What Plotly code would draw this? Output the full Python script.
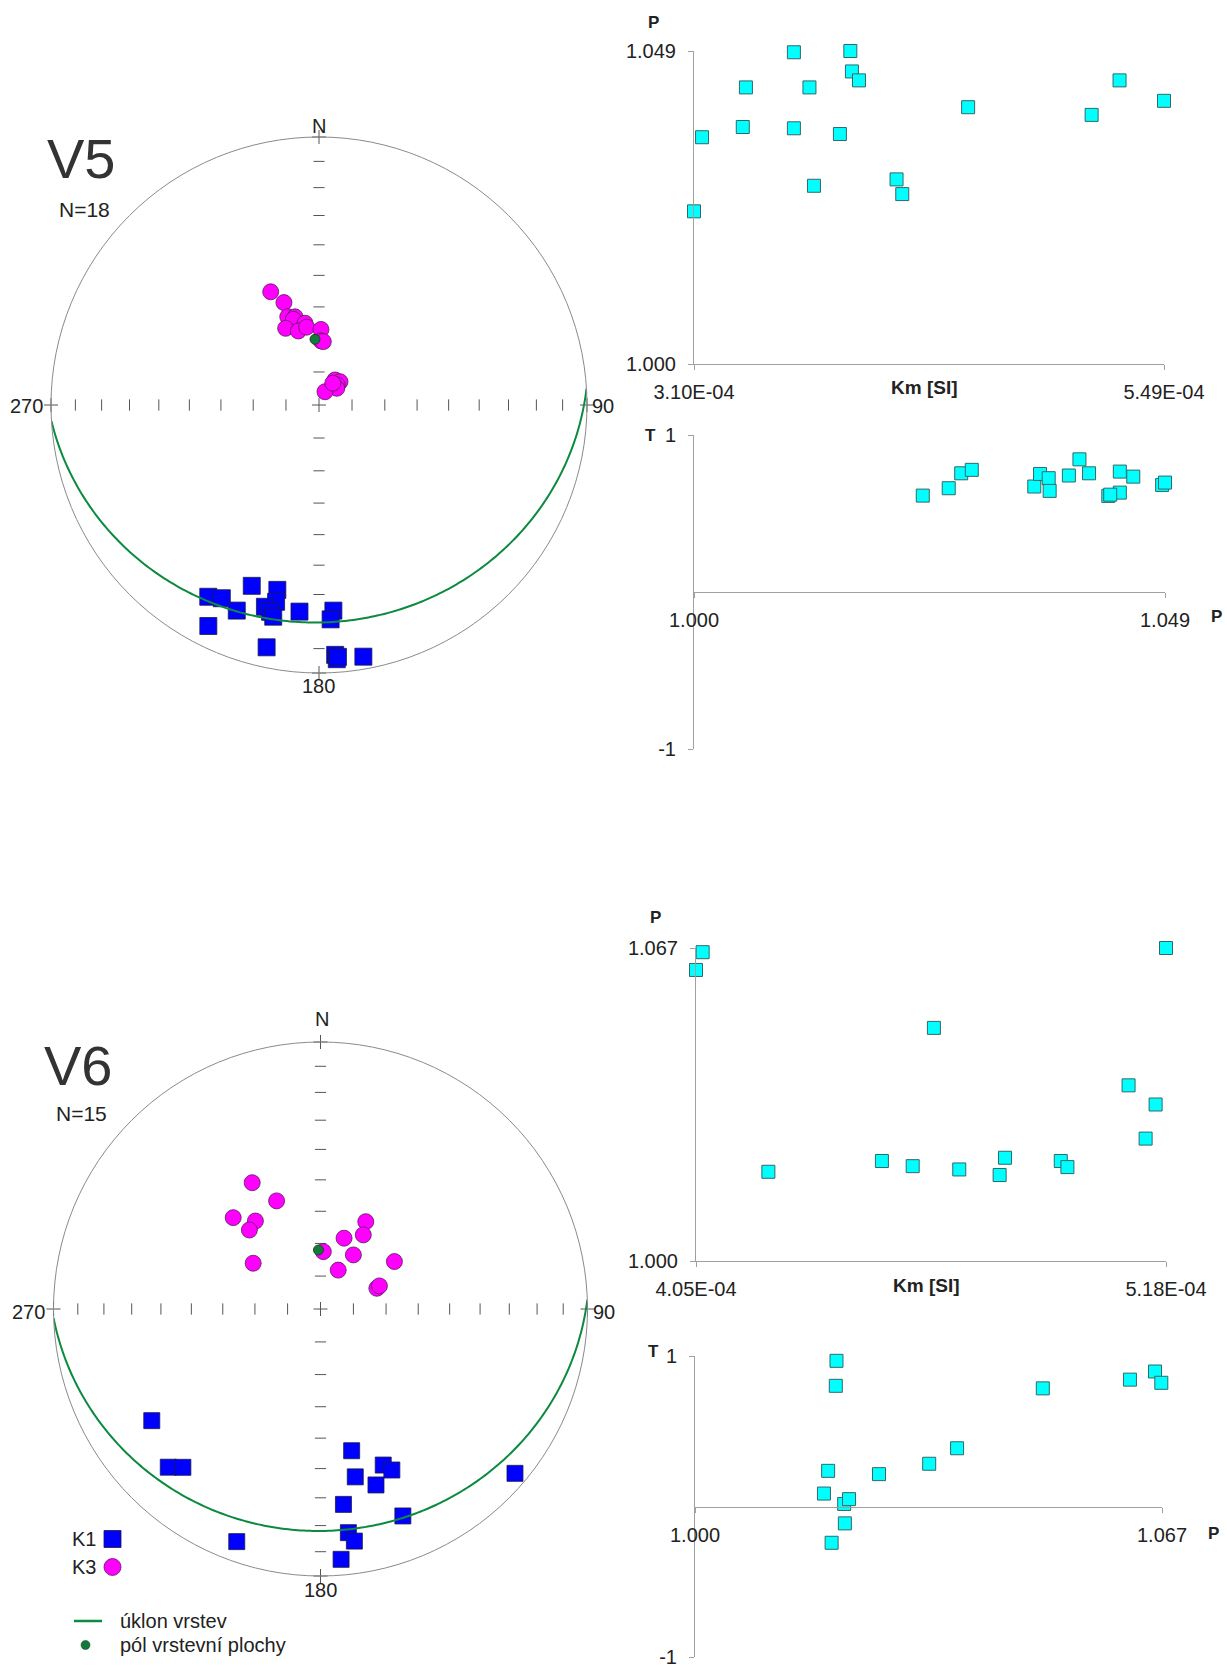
import numpy as np
import plotly.graph_objects as go

W, H = 1227, 1672

# ---------------- data ----------------
# V5 stereonet: principal axes (trend, plunge in degrees)
v5_k1_trend = [210.0, 206.7, 201.8, 200.4, 192.7, 192.3, 195.0, 193.3, 192.2, 185.4, 176.0, 176.9, 206.6, 192.2, 176.3, 176.0, 170.0, 175.7]
v5_k1_plunge = [18.5, 20.4, 18.5, 28.8, 30.0, 25.8, 23.1, 21.8, 20.3, 23.6, 24.1, 21.0, 8.6, 8.3, 7.3, 5.5, 5.2, 6.4]
v5_k3_trend = [336.9, 341.1, 340.5, 344.8, 343.3, 350.3, 336.5, 344.4, 351.0, 1.5, 1.8, 3.9, 32.6, 42.0, 42.5, 46.7, 24.3, 32.3]
v5_k3_plunge = [52.1, 56.8, 61.4, 62.1, 62.7, 64.7, 64.5, 66.6, 66.0, 67.0, 70.5, 70.7, 81.0, 80.5, 81.8, 82.6, 85.6, 82.2]
v5_pole_trend, v5_pole_plunge = [356.5], [70.0]
v5_bed_dipdir, v5_bed_dip = 176.5, 20.0

# V5 Km - P
v5_km = [3.100e-4, 3.141e-4, 3.348e-4, 3.364e-4, 3.608e-4, 3.608e-4, 3.687e-4, 3.710e-4, 3.842e-4,
         3.895e-4, 3.903e-4, 3.939e-4, 4.130e-4, 4.159e-4, 4.494e-4, 5.122e-4, 5.264e-4, 5.490e-4]
v5_p = [1.0239, 1.0355, 1.0371, 1.0433, 1.0488, 1.0369, 1.0433, 1.0279, 1.0360,
        1.0490, 1.0458, 1.0444, 1.0289, 1.0266, 1.0402, 1.0390, 1.0444, 1.0412]
# V5 P - T
v5_tp_p = [1.0238, 1.0265, 1.0278, 1.0289, 1.0354, 1.0360, 1.0369, 1.0370, 1.0390,
           1.0401, 1.0411, 1.0431, 1.0443, 1.0443, 1.0457, 1.0487, 1.0490, 1.0433]
v5_tp_t = [0.614, 0.661, 0.756, 0.778, 0.672, 0.752, 0.725, 0.644, 0.742,
           0.845, 0.756, 0.612, 0.767, 0.633, 0.735, 0.682, 0.697, 0.620]

# V6 stereonet
v6_k1_trend = [236.5, 223.9, 221.0, 199.8, 167.6, 158.1, 156.1, 168.3, 162.5, 173.3, 158.3, 172.9, 171.7, 175.3, 130.2]
v6_k1_plunge = [25.2, 18.9, 22.5, 8.2, 44.8, 37.1, 34.4, 36.0, 31.5, 27.2, 17.7, 16.7, 13.2, 6.6, 5.2]
v6_k3_trend = [331.6, 337.9, 316.3, 323.5, 318.0, 304.2, 2.8, 18.4, 27.4, 30.0, 31.3, 24.5, 57.3, 69.8, 68.6]
v6_k3_plunge = [45.3, 54.0, 50.9, 56.3, 57.3, 65.1, 72.5, 67.2, 59.8, 63.8, 70.7, 77.0, 63.1, 71.7, 70.7]
v6_pole_trend, v6_pole_plunge = [358.0], [72.0]
v6_bed_dipdir, v6_bed_dip = 178.0, 18.0

# V6 Km - P
v6_km = [4.050e-4, 4.066e-4, 4.224e-4, 4.497e-4, 4.571e-4, 4.622e-4, 4.683e-4, 4.780e-4,
         4.793e-4, 4.927e-4, 4.943e-4, 5.090e-4, 5.131e-4, 5.155e-4, 5.180e-4]
v6_p = [1.0623, 1.0661, 1.0191, 1.0214, 1.0203, 1.0499, 1.0196, 1.0184,
        1.0221, 1.0214, 1.0201, 1.0376, 1.0262, 1.0335, 1.0670]
# V6 P - T
v6_tp_p = [1.0203, 1.0202, 1.0191, 1.0185, 1.0214, 1.0221, 1.0215, 1.0196,
           1.0264, 1.0336, 1.0376, 1.0499, 1.0624, 1.0660, 1.0669]
v6_tp_t = [0.968, 0.802, 0.237, 0.086, 0.017, 0.049, -0.112, -0.241,
           0.215, 0.284, 0.387, 0.785, 0.843, 0.897, 0.822]

tick_plunges = [10, 20, 30, 40, 50, 60, 70, 80]

FONT = "Arial, Liberation Sans, sans-serif"


def schmidt_r(plunge):
    """Equal-area (Schmidt) lower-hemisphere radial distance."""
    p = np.asarray(plunge, dtype=float)
    return np.sqrt(2.0) * np.sin(np.radians(90.0 - p) / 2.0)


def great_circle(dipdir, dip, n=241):
    a = np.radians(np.linspace(0, 180, n))
    st = np.radians(dipdir - 90.0)
    dd = np.radians(dipdir)
    d = np.radians(dip)
    e = np.cos(a) * np.sin(st) + np.sin(a) * np.sin(dd) * np.cos(d)
    nn = np.cos(a) * np.cos(st) + np.sin(a) * np.cos(dd) * np.cos(d)
    dn = np.sin(a) * np.sin(d)
    plunge = np.degrees(np.arcsin(np.clip(dn, -1, 1)))
    trend = np.degrees(np.arctan2(e, nn)) % 360
    return trend, plunge


def px(x):
    return x / W


def py(y):
    return 1 - y / H


fig = go.Figure()


def add_stereonet(name, k1t, k1p, k3t, k3p, pt, pp, bdd, bd, sq, ci):
    rt = schmidt_r(tick_plunges)
    tick_col = "#555555"
    fig.add_trace(go.Scatterpolar(
        subplot=name, theta=[0] * 8 + [180] * 8, r=list(rt) + list(rt), mode="markers",
        marker=dict(symbol="line-ew", size=8, line=dict(color=tick_col, width=1)),
        hoverinfo="skip", showlegend=False, cliponaxis=False))
    fig.add_trace(go.Scatterpolar(
        subplot=name, theta=[90] * 8 + [270] * 8, r=list(rt) + list(rt), mode="markers",
        marker=dict(symbol="line-ns", size=8, line=dict(color=tick_col, width=1)),
        hoverinfo="skip", showlegend=False, cliponaxis=False))
    fig.add_trace(go.Scatterpolar(
        subplot=name, theta=[0, 0, 90, 180, 270], r=[0, 1, 1, 1, 1], mode="markers",
        marker=dict(symbol="cross-thin", size=10, line=dict(color=tick_col, width=1)),
        hoverinfo="skip", showlegend=False, cliponaxis=False))
    fig.add_trace(go.Scatterpolar(
        subplot=name, theta=k3t, r=schmidt_r(k3p), mode="markers", name="K3",
        marker=dict(symbol="circle", size=ci, color="#FF00FF", line=dict(color="#5a1a5a", width=0.8)),
        showlegend=False, cliponaxis=False))
    fig.add_trace(go.Scatterpolar(
        subplot=name, theta=k1t, r=schmidt_r(k1p), mode="markers", name="K1",
        marker=dict(symbol="square", size=sq, color="#0000FF", line=dict(color="#1a1a4a", width=0.8)),
        showlegend=False, cliponaxis=False))
    gt, gp = great_circle(bdd, bd)
    fig.add_trace(go.Scatterpolar(
        subplot=name, theta=gt, r=schmidt_r(gp), mode="lines",
        line=dict(color="#0c8a40", width=2), showlegend=False, cliponaxis=False, hoverinfo="skip"))
    fig.add_trace(go.Scatterpolar(
        subplot=name, theta=pt, r=schmidt_r(pp), mode="markers",
        marker=dict(symbol="circle", size=10, color="#137a3c", line=dict(color="#0a3a1a", width=0.8)),
        showlegend=False, cliponaxis=False))


add_stereonet("polar", v5_k1_trend, v5_k1_plunge, v5_k3_trend, v5_k3_plunge,
              v5_pole_trend, v5_pole_plunge, v5_bed_dipdir, v5_bed_dip, 17, 16)
add_stereonet("polar2", v6_k1_trend, v6_k1_plunge, v6_k3_trend, v6_k3_plunge,
              v6_pole_trend, v6_pole_plunge, v6_bed_dipdir, v6_bed_dip, 16, 16)

cyan_marker = dict(symbol="square", size=13, color="#00FFFF", line=dict(color="#2e6a6a", width=1))

fig.add_trace(go.Scatter(x=v5_km, y=v5_p, mode="markers", marker=cyan_marker, xaxis="x", yaxis="y",
                         showlegend=False, cliponaxis=False))
fig.add_trace(go.Scatter(x=v5_tp_p, y=v5_tp_t, mode="markers", marker=cyan_marker, xaxis="x2", yaxis="y2",
                         showlegend=False, cliponaxis=False))
fig.add_trace(go.Scatter(x=v6_km, y=v6_p, mode="markers", marker=cyan_marker, xaxis="x3", yaxis="y3",
                         showlegend=False, cliponaxis=False))
fig.add_trace(go.Scatter(x=v6_tp_p, y=v6_tp_t, mode="markers", marker=cyan_marker, xaxis="x4", yaxis="y4",
                         showlegend=False, cliponaxis=False))

polar_common = dict(
    bgcolor="rgba(0,0,0,0)",
    radialaxis=dict(range=[0, 1], visible=False, showgrid=False),
    angularaxis=dict(rotation=90, direction="clockwise", showline=True, linecolor="#8a8a8a",
                     linewidth=1, showgrid=False, showticklabels=False, ticks=""),
)

AX = "#a0a0a0"
tfont = dict(family=FONT, size=20, color="#222222")


def xax(dom, rng, vals, text, pos=None, anchor=None):
    d = dict(domain=dom, range=rng, showline=True, linecolor=AX, linewidth=1,
             showgrid=False, zeroline=False, ticks="outside", ticklen=5, tickcolor=AX,
             tickvals=vals, ticktext=text, tickfont=tfont, ticklabelstandoff=5, fixedrange=True,
             automargin=False, ticklabeloverflow="allow")
    if pos is not None:
        d["anchor"] = "free"
        d["position"] = pos
    else:
        d["anchor"] = anchor
    return d


def yax(dom, rng, vals, text, anchor):
    return dict(domain=dom, range=rng, showline=True, linecolor=AX, linewidth=1,
                showgrid=False, zeroline=False, ticks="outside", ticklen=5, tickcolor=AX,
                tickvals=vals, ticktext=text, tickfont=tfont, ticklabelstandoff=8,
                anchor=anchor, fixedrange=True, automargin=False, ticklabeloverflow="allow")


P5 = dict(x=[px(51), px(587)], y=[py(673), py(137)])
P6 = dict(x=[px(53.5), px(587.5)], y=[py(1576), py(1042)])

# T-P panels: y domains (T from -1 to 1); the P axis sits at T = 0 (middle of domain)
TP5 = [py(749), py(435)]
TP6 = [py(1657), py(1356)]

layout = dict(
    width=W, height=H, autosize=False,
    margin=dict(l=0, r=0, t=0, b=0, pad=0, autoexpand=False),
    paper_bgcolor="white", plot_bgcolor="rgba(0,0,0,0)",
    font=dict(family=FONT, color="#222222"),
    showlegend=False,
    polar=dict(domain=P5, **polar_common),
    polar2=dict(domain=P6, **polar_common),
    xaxis=xax([px(694), px(1164)], [3.10e-4, 5.49e-4], [3.10e-4, 5.49e-4], ["3.10E-04", "5.49E-04"], anchor="y"),
    yaxis=yax([py(364), py(51)], [1.000, 1.049], [1.000, 1.049], ["1.000", "1.049"], "x"),
    xaxis2=xax([px(694), px(1165)], [1.000, 1.049], [1.000, 1.049], ["1.000", "1.049"], pos=sum(TP5) / 2),
    yaxis2=yax(TP5, [-1, 1], [-1, 1], ["-1", "1"], "x2"),
    xaxis3=xax([px(696), px(1166)], [4.05e-4, 5.18e-4], [4.05e-4, 5.18e-4], ["4.05E-04", "5.18E-04"], anchor="y3"),
    yaxis3=yax([py(1261), py(948)], [1.000, 1.067], [1.000, 1.067], ["1.000", "1.067"], "x3"),
    xaxis4=xax([px(695), px(1162)], [1.000, 1.067], [1.000, 1.067], ["1.000", "1.067"], pos=sum(TP6) / 2),
    yaxis4=yax(TP6, [-1, 1], [-1, 1], ["-1", "1"], "x4"),
)

ann = []


def text(x, y, s, size=20, bold=False, color="#222222", xanchor="center"):
    ann.append(dict(x=px(x), y=py(y), xref="paper", yref="paper", text=f"<b>{s}</b>" if bold else s,
                    showarrow=False, xanchor=xanchor, yanchor="middle",
                    font=dict(family=FONT, size=size, color=color)))


# stereonet labels
text(81, 158, "V5", size=56, color="#333333")
text(84, 209, "N=18", size=21)
text(319, 126, "N", size=20)
text(26, 406, "270", size=20)
text(603, 406, "90", size=20)
text(319, 686, "180", size=20)
text(78, 1065, "V6", size=56, color="#333333")
text(81, 1113, "N=15", size=21)
text(322, 1019, "N", size=20)
text(28, 1312, "270", size=20)
text(604, 1312, "90", size=20)
text(320, 1590, "180", size=20)
# scatter axis names
text(653, 22, "P", size=17, bold=True)
text(924, 387, "Km [SI]", size=19, bold=True)
text(651, 435, "T", size=17, bold=True)
text(1216, 616, "P", size=17, bold=True)
text(655, 918, "P", size=17, bold=True)
text(926, 1285, "Km [SI]", size=19, bold=True)
text(653, 1351, "T", size=17, bold=True)
text(1213, 1533, "P", size=17, bold=True)
# legend
text(84, 1539, "K1", size=20)
text(84, 1567, "K3", size=20)
text(118, 1621, "úklon vrstev", size=20, xanchor="left")
text(118, 1645, "pól vrstevní plochy", size=20, xanchor="left")

layout["annotations"] = ann
layout["shapes"] = [
    dict(type="rect", xref="paper", yref="paper", x0=px(104), x1=px(121), y0=py(1547.5), y1=py(1530.5),
         fillcolor="#0000FF", line=dict(color="#1a1a4a", width=0.8)),
    dict(type="circle", xref="paper", yref="paper", x0=px(104), x1=px(121), y0=py(1575.5), y1=py(1558.5),
         fillcolor="#FF00FF", line=dict(color="#5a1a5a", width=0.8)),
    dict(type="line", xref="paper", yref="paper", x0=px(74), x1=px(102), y0=py(1621), y1=py(1621),
         line=dict(color="#0c8a40", width=2.5)),
    dict(type="circle", xref="paper", yref="paper", x0=px(81), x1=px(90), y0=py(1649.5), y1=py(1640.5),
         fillcolor="#137a3c", line=dict(color="#0a3a1a", width=0.5)),
]

fig.update_layout(**layout)
fig.write_html("out.html")
